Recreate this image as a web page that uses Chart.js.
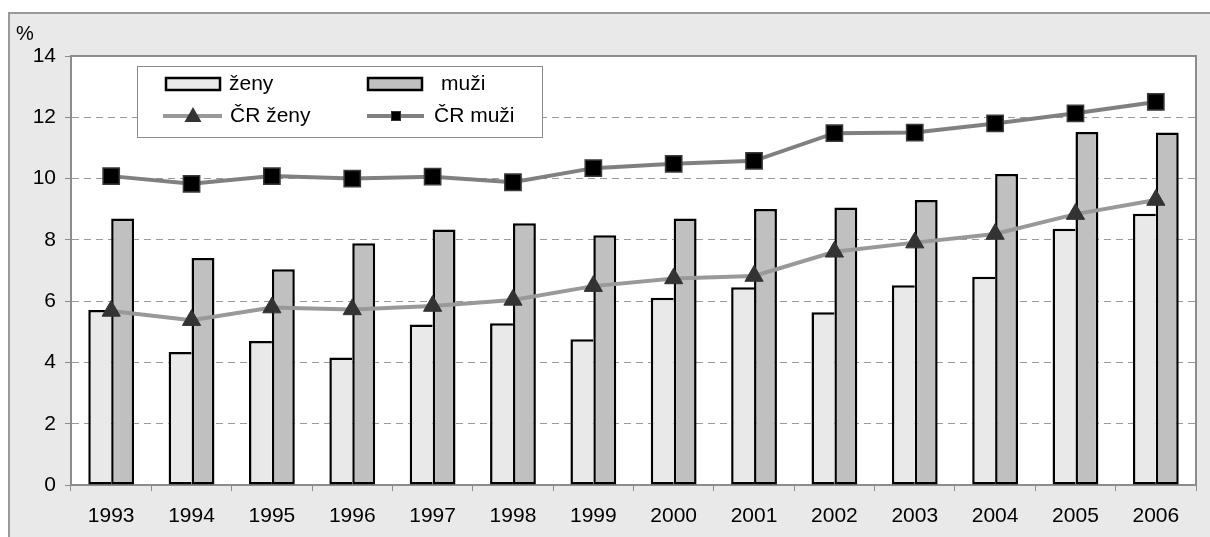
<!DOCTYPE html>
<html>
<head>
<meta charset="utf-8">
<script src="https://cdn.jsdelivr.net/npm/chart.js@4.4.1/dist/chart.umd.min.js"></script>
<style>
  html, body { margin: 0; padding: 0; background: #ffffff; }
  #wrap { position: relative; width: 1210px; height: 537px; }
</style>
</head>
<body>
<div id="wrap"><canvas id="c" width="1210" height="537"></canvas></div>
<script>
const years = ['1993','1994','1995','1996','1997','1998','1999','2000','2001','2002','2003','2004','2005','2006'];
const zeny = [5.71, 4.34, 4.70, 4.16, 5.24, 5.28, 4.76, 6.11, 6.45, 5.64, 6.52, 6.80, 8.36, 8.85];
const muzi = [8.70, 7.41, 7.04, 7.89, 8.34, 8.54, 8.15, 8.70, 9.01, 9.06, 9.30, 10.15, 11.52, 11.50];
const crZeny = [5.68, 5.38, 5.79, 5.73, 5.84, 6.04, 6.49, 6.74, 6.82, 7.61, 7.91, 8.19, 8.84, 9.30];
const crMuzi = [10.08, 9.83, 10.08, 10.00, 10.06, 9.88, 10.34, 10.48, 10.58, 11.48, 11.50, 11.80, 12.13, 12.50];
const seriesLabels = ['ženy', 'muži', 'ČR ženy', 'ČR muži'];
const unitLabel = '%';
const yMin = 0, yMax = 14, yStep = 2;

const FONT = '"Liberation Sans", Arial, sans-serif';
const BG = '#e9e9e9';
const ZENY_FILL = '#e9e9e9';
const MUZI_FILL = '#c0c0c0';
const AXIS = '#8c8c8c';

const framePlugin = {
  id: 'frame',
  beforeDraw(chart) {
    const ctx = chart.ctx;
    const ca = chart.chartArea;
    ctx.save();
    ctx.fillStyle = '#ffffff';
    ctx.fillRect(0, 0, chart.width, chart.height);
    ctx.fillStyle = BG;
    ctx.fillRect(9, 13, chart.width - 9, chart.height - 13);
    ctx.strokeStyle = '#9a9a9a';
    ctx.lineWidth = 2;
    ctx.beginPath();
    ctx.moveTo(9, chart.height);
    ctx.lineTo(9, 13);
    ctx.lineTo(chart.width, 13);
    ctx.stroke();
    ctx.fillStyle = '#ffffff';
    ctx.fillRect(ca.left, ca.top, ca.right - ca.left, ca.bottom - ca.top);
    ctx.restore();
  },
  beforeDatasetsDraw(chart) {
    const ctx = chart.ctx;
    const ca = chart.chartArea;
    ctx.save();
    ctx.strokeStyle = AXIS;
    ctx.lineWidth = 2;
    ctx.beginPath();
    ctx.moveTo(ca.left, ca.top);
    ctx.lineTo(ca.right, ca.top);
    ctx.lineTo(ca.right, ca.bottom);
    ctx.stroke();
    ctx.restore();
  },
  afterDraw(chart) {
    const ctx = chart.ctx;
    ctx.save();
    ctx.fillStyle = '#000';
    ctx.font = '20px ' + FONT;
    ctx.textBaseline = 'middle';
    ctx.textAlign = 'left';
    ctx.fillText(unitLabel, 16, 34);

    // legend box
    const lx = 137, ly = 66, lw = 405, lh = 71;
    ctx.fillStyle = '#ffffff';
    ctx.fillRect(lx, ly, lw, lh);
    ctx.strokeStyle = '#8c8c8c';
    ctx.lineWidth = 1;
    ctx.strokeRect(lx + 0.5, ly + 0.5, lw, lh);

    const ds = chart.data.datasets;
    ctx.font = '21px ' + FONT;
    ctx.textBaseline = 'middle';
    const r1 = 84, r2 = 116;
    function swatch(x, fill) {
      ctx.fillStyle = fill;
      ctx.fillRect(x, r1 - 6, 54, 12);
      ctx.strokeStyle = '#000';
      ctx.lineWidth = 2.5;
      ctx.strokeRect(x, r1 - 6, 54, 12);
    }
    swatch(166, ZENY_FILL);
    ctx.fillStyle = '#000';
    ctx.fillText(ds[0].label, 229, r1);
    swatch(368, MUZI_FILL);
    ctx.fillStyle = '#000';
    ctx.fillText(ds[1].label, 441, r1);

    ctx.lineWidth = 4;
    ctx.strokeStyle = '#999999';
    ctx.beginPath(); ctx.moveTo(163, r2); ctx.lineTo(222, r2); ctx.stroke();
    ctx.fillStyle = '#333333';
    ctx.beginPath();
    ctx.moveTo(193, r2 - 9); ctx.lineTo(201.5, r2 + 6); ctx.lineTo(184.5, r2 + 6); ctx.closePath();
    ctx.fill();
    ctx.fillStyle = '#000';
    ctx.fillText(ds[2].label, 230, r2);

    ctx.strokeStyle = '#808080';
    ctx.beginPath(); ctx.moveTo(367, r2); ctx.lineTo(424, r2); ctx.stroke();
    ctx.fillStyle = '#000';
    ctx.fillRect(391, r2 - 5, 10, 10);
    ctx.strokeStyle = '#333';
    ctx.lineWidth = 1;
    ctx.strokeRect(391.5, r2 - 4.5, 9, 9);
    ctx.fillStyle = '#000';
    ctx.fillText(ds[3].label, 434, r2);
    ctx.restore();
  }
};

new Chart(document.getElementById('c'), {
  type: 'bar',
  data: {
    labels: years,
    datasets: [
      { type: 'bar', label: seriesLabels[0], data: zeny, backgroundColor: ZENY_FILL, borderColor: '#000', borderWidth: { left: 2.5, top: 2.5, bottom: 2.5, right: 0 }, borderSkipped: false, order: 2, barPercentage: 1.0, categoryPercentage: 0.57 },
      { type: 'bar', label: seriesLabels[1], data: muzi, backgroundColor: MUZI_FILL, borderColor: '#000', borderWidth: 2.5, borderSkipped: false, order: 2, barPercentage: 1.0, categoryPercentage: 0.57 },
      { type: 'line', label: seriesLabels[2], data: crZeny, borderColor: '#999999', borderWidth: 4, pointStyle: 'triangle', pointRadius: 10.5, pointBackgroundColor: '#333333', pointBorderColor: '#333333', pointBorderWidth: 1, tension: 0, order: 1 },
      { type: 'line', label: seriesLabels[3], data: crMuzi, borderColor: '#808080', borderWidth: 4, pointStyle: 'rect', pointRadius: 11.5, pointBackgroundColor: '#000000', pointBorderColor: '#3a3a3a', pointBorderWidth: 1.5, tension: 0, order: 0 }
    ]
  },
  options: {
    responsive: false,
    animation: false,
    layout: { padding: { top: 56, right: 14, left: 0, bottom: 0 } },
    plugins: { legend: { display: false }, tooltip: { enabled: false } },
    scales: {
      x: {
        offset: true,
        grid: { display: true, drawOnChartArea: false, drawTicks: true, tickLength: 6, tickColor: AXIS, offset: true },
        border: { display: true, color: AXIS, width: 2 },
        ticks: { color: '#000', font: { family: FONT, size: 21 }, padding: 13, maxRotation: 0, autoSkip: false },
        afterFit(scale) { scale.height = 52; }
      },
      y: {
        min: yMin, max: yMax,
        grid: {
          color: (c) => (c.tick && (c.tick.value === yMin || c.tick.value === yMax)) ? 'rgba(0,0,0,0)' : '#9a9a9a',
          lineWidth: 1, tickLength: 6, tickColor: AXIS, tickBorderDash: []
        },
        border: { display: true, color: AXIS, width: 2, dash: [7, 5] },
        ticks: { stepSize: yStep, color: '#000', font: { family: FONT, size: 21 }, padding: 9 },
        afterFit(scale) { scale.width = 71; }
      }
    }
  },
  plugins: [framePlugin]
});
</script>
</body>
</html>
